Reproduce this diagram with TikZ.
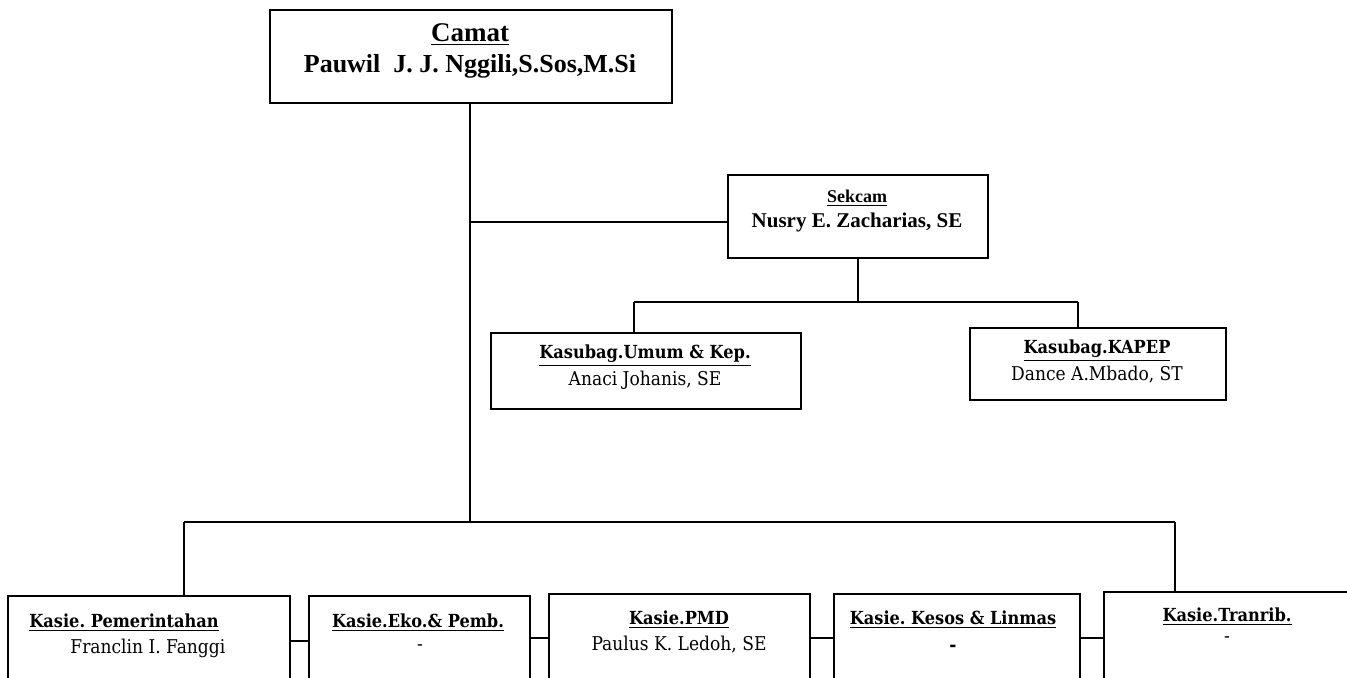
\documentclass[tikz,border=0pt]{standalone}
\usepackage{fontspec}
\setmainfont{Liberation Serif}
\newfontfamily\cambria{DejaVu Serif Condensed}
\frenchspacing

\begin{document}
\begin{tikzpicture}[x=0.5pt,y=-0.5pt]
      \tikzstyle{every node}+=[inner sep=0pt]
      \tikzstyle{box}=[draw=black, line width=1pt, anchor=north west]
      \tikzstyle{head}=[font=\fontsize{13.5}{15}\selectfont\bfseries]
      \tikzstyle{sub}=[font=\cambria\fontsize{9}{11}\selectfont\bfseries]
      \tikzstyle{who}=[font=\cambria\fontsize{9.5}{11}\selectfont]
      \useasboundingbox (0,0) rectangle (1347,677);
      \clip (0,0) rectangle (1347,677);
      \node [box, minimum width=201pt, minimum height=46.5pt] (camat) at (269,9) {};
      \node [head] (camatT) at (470,35) {\underline{Camat}};
      \node [head, font=\fontsize{13}{15}\selectfont\bfseries] (camatN) at (470,66) {Pauwil~ J. J. Nggili,S.Sos,M.Si};
      \node [box, minimum width=130pt, minimum height=41.5pt] (sekcam) at (727,174) {};
      \node [font=\fontsize{9}{11}\selectfont\bfseries] (sekcamT) at (857,198) {\underline{Sekcam}};
      \node [font=\fontsize{10.5}{12}\selectfont\bfseries] (sekcamN) at (857,222) {Nusry E. Zacharias, SE};
      \node [box, minimum width=155pt, minimum height=38pt] (umum) at (490,332) {};
      \node [sub] (umumT) at (645,356) {\underline{Kasubag.Umum \& Kep.}};
      \node [who] (umumN) at (645,380) {Anaci Johanis, SE};
      \node [box, minimum width=128pt, minimum height=36pt] (kapep) at (969,327) {};
      \node [sub] (kapepT) at (1097,351) {\underline{Kasubag.KAPEP}};
      \node [who] (kapepN) at (1097,375) {Dance A.Mbado, ST};
      \node [box, minimum width=141pt, minimum height=45pt] (pem) at (7,595) {};
      \node [sub, anchor=west] (pemT) at (29,623) {\underline{Kasie. Pemerintahan}};
      \node [who, anchor=west] (pemN) at (70,648) {Franclin I. Fanggi};
      \node [box, minimum width=110.5pt, minimum height=45pt] (eko) at (308,595) {};
      \node [sub] (ekoT) at (418,623) {\underline{Kasie.Eko.\& Pemb.}};
      \node [who] (ekoN) at (420,648) {-};
      \node [box, minimum width=130.5pt, minimum height=44pt] (pmd) at (548,593) {};
      \node [sub] (pmdT) at (679,620) {\underline{Kasie.PMD}};
      \node [who] (pmdN) at (679,645) {Paulus K. Ledoh, SE};
      \node [box, minimum width=123pt, minimum height=44pt] (kesos) at (833,593) {};
      \node [sub] (kesosT) at (953,620) {\underline{Kasie. Kesos \& Linmas}};
      \node [who, font=\cambria\fontsize{9.5}{11}\selectfont\bfseries] (kesosN) at (953,648) {-};
      \node [box, minimum width=124pt, minimum height=46pt] (tran) at (1103,591) {};
      \node [sub] (tranT) at (1227,617) {\underline{Kasie.Tranrib.}};
      \node [who] (tranN) at (1227,640) {-};
      \coordinate (j1) at (470,222);
      \coordinate (j2) at (470,522);
      \coordinate (s1) at (634,302);
      \coordinate (s2) at (1078,302);
      \coordinate (b1) at (184,522);
      \coordinate (b2) at (1175,522);
      \draw [black, line width=0.9pt] (j1 |- camat.south) -- (j2);
      \draw [black, line width=0.9pt] (j1) -- (j1 -| sekcam.west);
      \draw [black, line width=0.9pt] (sekcam.south) -- (sekcam.south |- s1);
      \draw [black, line width=0.9pt] (s1) -- (s2);
      \draw [black, line width=0.9pt] (s1) -- (s1 |- umum.north);
      \draw [black, line width=0.9pt] (s2) -- (s2 |- kapep.north);
      \draw [black, line width=0.9pt] (b1) -- (b2);
      \draw [black, line width=0.9pt] (b1) -- (b1 |- pem.north);
      \draw [black, line width=0.9pt] (b2) -- (b2 |- tran.north);
      \draw [black, line width=0.9pt] (pem.east) -- (pem.east -| eko.west);
      \draw [black, line width=0.9pt] (eko.east |- pmd.west) -- (pmd.west);
      \draw [black, line width=0.9pt] (pmd.east) -- (pmd.east -| kesos.west);
      \draw [black, line width=0.9pt] (kesos.east |- tran.west) -- (tran.west);
\end{tikzpicture}
\end{document}
